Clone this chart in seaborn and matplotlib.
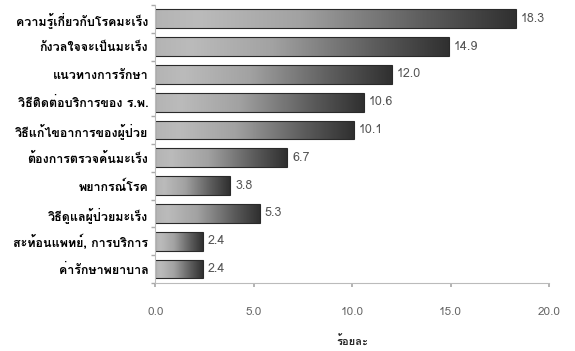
import matplotlib
matplotlib.use("Agg")
import matplotlib.pyplot as plt
from matplotlib import font_manager
from matplotlib.colors import LinearSegmentedColormap
from fontTools.ttLib import TTFont
import seaborn as sns
import numpy as np
import pandas as pd

# ข้อมูล
topics = ["ความรู้เกี่ยวกับโรคมะเร็ง", "กังวลใจจะเป็นมะเร็ง", "แนวทางการรักษา",
          "วิธีติดต่อบริการของ ร.พ.", "วิธีแก้ไขอาการของผู้ป่วย", "ต้องการตรวจค้นมะเร็ง",
          "พยากรณ์โรค", "วิธีดูแลผู้ป่วยมะเร็ง", "สะท้อนแพทย์, การบริการ", "ค่ารักษาพยาบาล"]
percent = [18.3, 14.9, 12.0, 10.6, 10.1, 6.7, 3.8, 5.3, 2.4, 2.4]
xticks = [0, 5, 10, 15, 20]

df = pd.DataFrame({"topic": topics, "percent": percent})

# หาฟอนต์ที่มีอักษรไทย
thai_fams = []
for f in font_manager.fontManager.ttflist:
    try:
        cmap = TTFont(f.fname, fontNumber=0, lazy=True).getBestCmap()
    except Exception:
        continue
    if cmap and 0x0E01 in cmap and 0x0E49 in cmap and f.name not in thai_fams:
        thai_fams.append(f.name)

sns.set_theme(style="white")
plt.rcParams["font.family"] = thai_fams[:1] + ["DejaVu Sans"]

fig = plt.figure(figsize=(5.75, 3.51), dpi=100)
ax = fig.add_axes([0.27, 0.194, 0.685, 0.792])

sns.barplot(data=df, x="percent", y="topic", orient="h", width=0.68,
            color="#888888", edgecolor="#2a2a2a", linewidth=0.8, ax=ax)

# ไล่เฉดสีเทาจากซ้ายไปขวา
grad_cmap = LinearSegmentedColormap.from_list(
    "g", [(0, "#b4b4b4"), (0.12, "#bbbbbb"), (0.4, "#a2a2a2"),
          (0.75, "#5c5c5c"), (1, "#303030")])
grad = np.linspace(0, 1, 256).reshape(1, -1)
for p in list(ax.patches):
    x0, y0 = p.get_x(), p.get_y()
    w, h = p.get_width(), p.get_height()
    im = ax.imshow(grad, extent=[x0, x0 + w, y0 + h, y0], cmap=grad_cmap,
                   aspect="auto", zorder=p.get_zorder() + 0.1)
    im.set_clip_path(p)
    p.set_facecolor("none")
    p.set_zorder(p.get_zorder() + 0.2)
    ax.text(x0 + w + 0.25, y0 + h / 2, f"{w:.1f}", va="center", ha="left",
            fontsize=9, color="#555555")

ax.set_xlim(0, 20)
ax.set_ylim(9.5, -0.5)
ax.set_xticks(xticks)
ax.set_xticklabels([f"{t:.1f}" for t in xticks], fontsize=8.5, color="#666666")
ax.tick_params(axis="x", length=3, color="#aaaaaa", pad=14, direction="out", bottom=True)
ax.tick_params(axis="y", length=0, labelsize=9, labelcolor="black", pad=5)
for lab in ax.get_yticklabels():
    lab.set_fontweight("bold")
ax.set_yticks(np.arange(-0.5, 10, 1), minor=True)
ax.tick_params(axis="y", which="minor", length=3, color="#aaaaaa", left=True)
ax.set_xlabel("ร้อยละ", fontsize=8, fontweight="bold", labelpad=14)
ax.set_ylabel("")
sns.despine(ax=ax)
for s in ["left", "bottom"]:
    ax.spines[s].set_color("#bbbbbb")
    ax.spines[s].set_linewidth(0.8)

fig.savefig("out.png", dpi=100)
